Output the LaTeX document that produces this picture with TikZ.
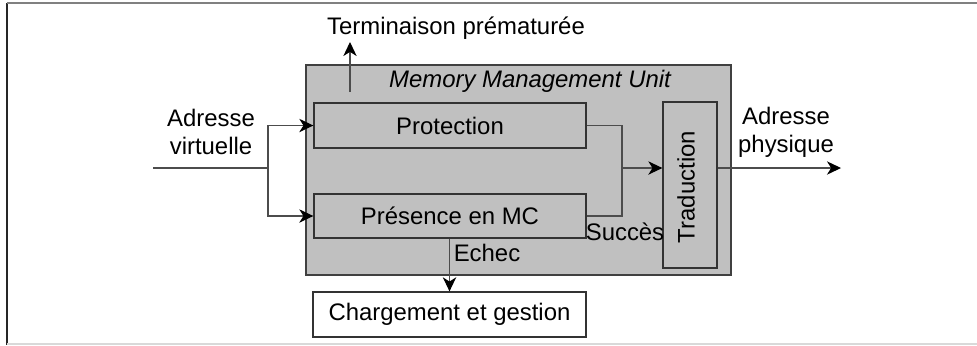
\documentclass[tikz,border=0pt]{standalone}
\usepackage{fontspec}
\setmainfont{Liberation Sans}
\usepackage{tikz}
\usetikzlibrary{arrows.meta,positioning}
\definecolor{mmugray}{HTML}{C0C0C0}
\tikzset{
  mmu-unit/.style={draw=black!75, fill=mmugray, line width=1pt},
  mmu-block/.style={draw=black!80, fill=mmugray, line width=0.9pt, inner sep=0pt},
  mmu-out/.style={draw=black!80, fill=white, line width=0.9pt, inner sep=0pt},
  mmu-link/.style={draw=black!70, line width=0.8pt},
  mmu-arrow/.style={mmu-link, -{Stealth[length=10pt,width=9.5pt,inset=3pt,black]}},
  mmu-text/.style={align=center, inner sep=0pt, font=\fontsize{17}{20}\selectfont}
}

\begin{document}
\begin{tikzpicture}[x=0.025cm, y=-0.025cm]
  \useasboundingbox (0,0) rectangle (977,345);
  % frame
  \draw[black!85, line width=1.2pt] (7,3) -- (7,345);
  \draw[black!50, line width=1pt] (7,3) -- (977,3);
  \draw[black!15, line width=1pt] (7,344) -- (977,344);
  % unit
  \node[mmu-unit, minimum width=10.625cm, minimum height=5.25cm] (mmu) at (518.5,170) {};
  \node[mmu-text, font=\fontsize{17}{20}\selectfont\itshape] (title) at (530,81) {Memory Management Unit};
  \node[mmu-block, minimum width=6.8cm, minimum height=1.125cm, mmu-text] (prot) at (450,125.5) {Protection};
  \node[mmu-block, minimum width=6.8cm, minimum height=1.1cm, mmu-text] (pres) at (450,216) {Présence en MC};
  \node[mmu-block, minimum width=1.35cm, minimum height=4.15cm] (trad) at (690,185) {};
  \node[mmu-text, rotate=90] (tradtxt) at (686,187) {Traduction};
  \node[mmu-out, minimum width=6.825cm, minimum height=1.125cm, mmu-text] (charg) at (449.5,314.5) {Chargement et gestion};
  % labels
  \node[mmu-text] (virt) at (211,132) {Adresse\\virtuelle};
  \node[mmu-text] (phys) at (786,132) {Adresse\\physique};
  \node[mmu-text] (term) at (456,28) {Terminaison prématurée};
  \node[mmu-text] (succ) at (625,232) {Succès};
  \node[mmu-text] (echec) at (487,253) {Echec};
  % connectors
  \coordinate (in) at (153,168);
  \coordinate (split) at (268,168);
  \coordinate (merge) at (622,168);
  \coordinate (out) at (841,168);
  \coordinate (termfoot) at (350,92);
  \coordinate (termtip) at (350,42);
  \draw[mmu-link] (in) -- (split);
  \draw[mmu-arrow] (split) |- (prot.west);
  \draw[mmu-arrow] (split) |- (pres.west);
  \draw[mmu-link] (prot.east) -| (merge);
  \draw[mmu-link] (pres.east) -| (merge);
  \draw[mmu-arrow] (merge) -- (trad.west |- merge);
  \draw[mmu-arrow] (trad.east |- out) -- (out);
  \draw[mmu-arrow] (termfoot) -- (termtip);
  \draw[mmu-arrow] (pres.south -| charg.north) -- (charg.north);
\end{tikzpicture}
\end{document}
